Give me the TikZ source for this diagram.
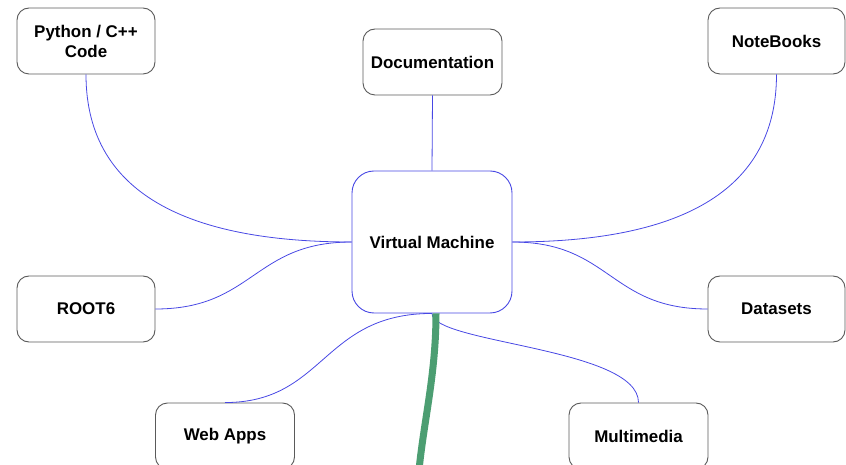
\documentclass[tikz,border=0pt]{standalone}
\usepackage{fontspec}
\setmainfont{Liberation Sans}
\definecolor{linkblue}{RGB}{72,72,228}
\definecolor{boxgray}{RGB}{90,90,90}
\definecolor{trunkgreen}{RGB}{76,158,114}
\begin{document}
\begin{tikzpicture}[x=1bp,y=-1bp,
  leaf/.style={draw=boxgray,line width=0.9bp,rounded corners=12bp,fill=white,
    minimum width=138bp,minimum height=66bp,inner sep=0pt,align=center,
    font=\fontsize{17}{20}\selectfont\bfseries},
  hub/.style={draw=linkblue,line width=0.9bp,rounded corners=22bp,fill=white,
    minimum width=160bp,minimum height=142bp,inner sep=0pt,align=center,
    font=\fontsize{17}{20}\selectfont\bfseries},
  link/.style={draw=linkblue,line width=0.8bp},
  trunk/.style={draw=trunkgreen,line width=7bp}]
\useasboundingbox (0,0) rectangle (846,465);
\clip (0,0) rectangle (846,465);
\node[leaf] (py) at (86,41) {Python / C++\\Code};
\node[leaf,minimum width=139bp] (doc) at (432.5,62) {Documentation};
\node[leaf,minimum width=137bp] (nb) at (776.5,41) {NoteBooks};
\node[hub] (vm) at (432,242) {Virtual Machine};
\node[leaf] (root) at (86,309) {ROOT6};
\node[leaf,minimum width=137bp] (ds) at (776.5,309) {Datasets};
\node[leaf,minimum width=139bp] (web) at (225,436) {Web Apps};
\node[leaf,minimum width=139bp] (mm) at (638.5,436) {Multimedia};
\draw[link] (py.south) .. controls +(0,126) and +(-152,0) .. (vm.west);
\draw[link] (doc.south) -- (vm.north);
\draw[link] (nb.south) .. controls +(0,126) and +(152,0) .. (vm.east);
\draw[link] (root.east) .. controls +(98,0) and +(-98,0) .. (vm.west);
\draw[link] (ds.west) .. controls +(-98,0) and +(98,0) .. (vm.east);
\draw[link] (web.north) .. controls +(100,0) and +(-110,0) .. (vm.south);
\draw[link] (vm.south) .. controls +(0,30) and +(0,-55) .. (mm.north);
\coordinate (trunkstart) at ([xshift=4bp]vm.south);
\coordinate (trunkend) at (419,470);
\draw[trunk] (trunkstart) .. controls +(0,60) and +(5,-50) .. (trunkend);
\end{tikzpicture}
\end{document}
